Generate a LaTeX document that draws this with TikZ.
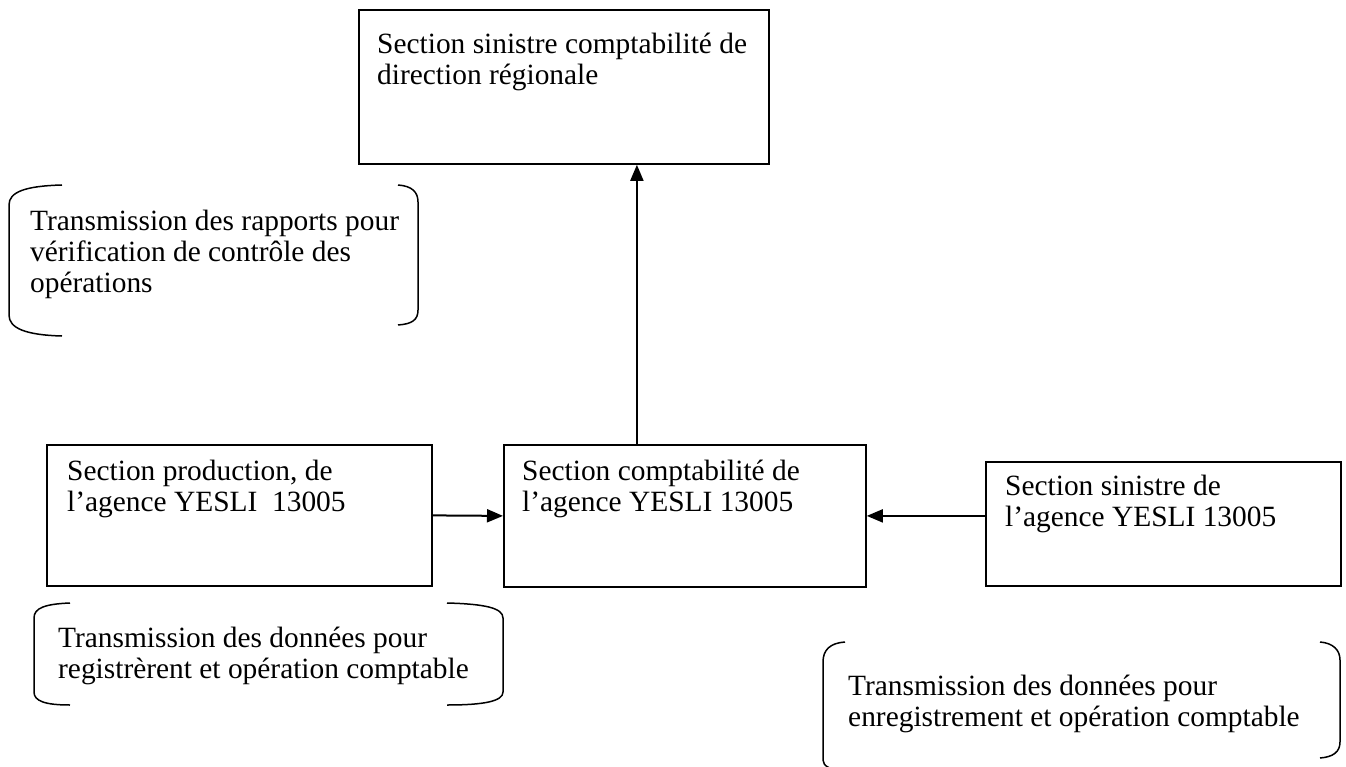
\documentclass[tikz,border=0pt]{standalone}
\usepackage{fontspec}
\setmainfont{Liberation Serif}
\usetikzlibrary{arrows.meta}
\begin{document}
\begin{tikzpicture}[x=1pt,y=-1pt,
  box/.style={draw=black,line width=1.8pt,inner sep=0pt,anchor=north west},
  txt/.style={inner sep=0pt,anchor=base west,align=left,font=\fontsize{29.4}{31}\selectfont},
  arr/.style={line width=2pt,-{Triangle[length=16pt,width=13pt]}},
  brk/.style={line width=1.5pt}]
\clip (0,0) rectangle (1346,767);
\fill[white] (0,0) rectangle (1346,767);
% boxes
\node[box,minimum width=410pt,minimum height=154pt] (top) at (358,9) {};
\node[box,minimum width=385pt,minimum height=141pt] (left) at (46,444) {};
\node[box,minimum width=362pt,minimum height=142pt] (mid) at (503,444) {};
\node[box,minimum width=355pt,minimum height=124pt] (right) at (985,461) {};
% box texts (anchor = baseline of the last line)
\node[txt] (topT) at (377,85) {Section sinistre comptabilité de\\direction régionale};
\node[txt] (leftT) at (67,511) {Section production, de\\l’agence YESLI~~13005};
\node[txt] (midT) at (522,511) {Section comptabilité de\\l’agence YESLI 13005};
\node[txt] (rightT) at (1005,526) {Section sinistre de\\l’agence YESLI 13005};
% connectors
\draw[arr] (left.east) -- (mid.west);
\draw[arr] (right.west |- mid.east) -- (mid.east);
\draw[arr] ([xshift=-48pt]mid.north) -- ([xshift=-48pt]mid.north |- top.south);
% annotation texts
\node[txt] (n1) at (30,292) {Transmission des rapports pour\\vérification de contrôle des\\opérations};
\node[txt] (n2) at (58,678) {Transmission des données pour\\registrèrent et opération comptable};
\node[txt] (n3) at (848,726) {Transmission des données pour\\enregistrement et opération comptable};
% brackets 1
\draw[brk] (62,185) .. controls (25,186) and (9,192) .. (9,205) -- (9,315) .. controls (9,328) and (25,335) .. (62,336);
\draw[brk] (398,185) .. controls (412,186) and (418,192) .. (418,202) -- (418,310) .. controls (418,320) and (412,324) .. (398,325);
% brackets 2
\draw[brk] (70,603) .. controls (45,604) and (34,608) .. (34,618) -- (34,692) .. controls (34,701) and (45,705) .. (70,705);
\draw[brk] (447,603) .. controls (485,604) and (503,608) .. (503,618) -- (503,692) .. controls (503,701) and (485,705) .. (447,705);
% brackets 3
\draw[brk] (845,642) .. controls (830,643) and (823,650) .. (823,662) -- (823,760) .. controls (823,766) and (830,770) .. (845,771);
\draw[brk] (1320,642) .. controls (1333,643) and (1340,650) .. (1340,660) -- (1340,742) .. controls (1340,752) and (1333,757) .. (1320,758);
\end{tikzpicture}
\end{document}
